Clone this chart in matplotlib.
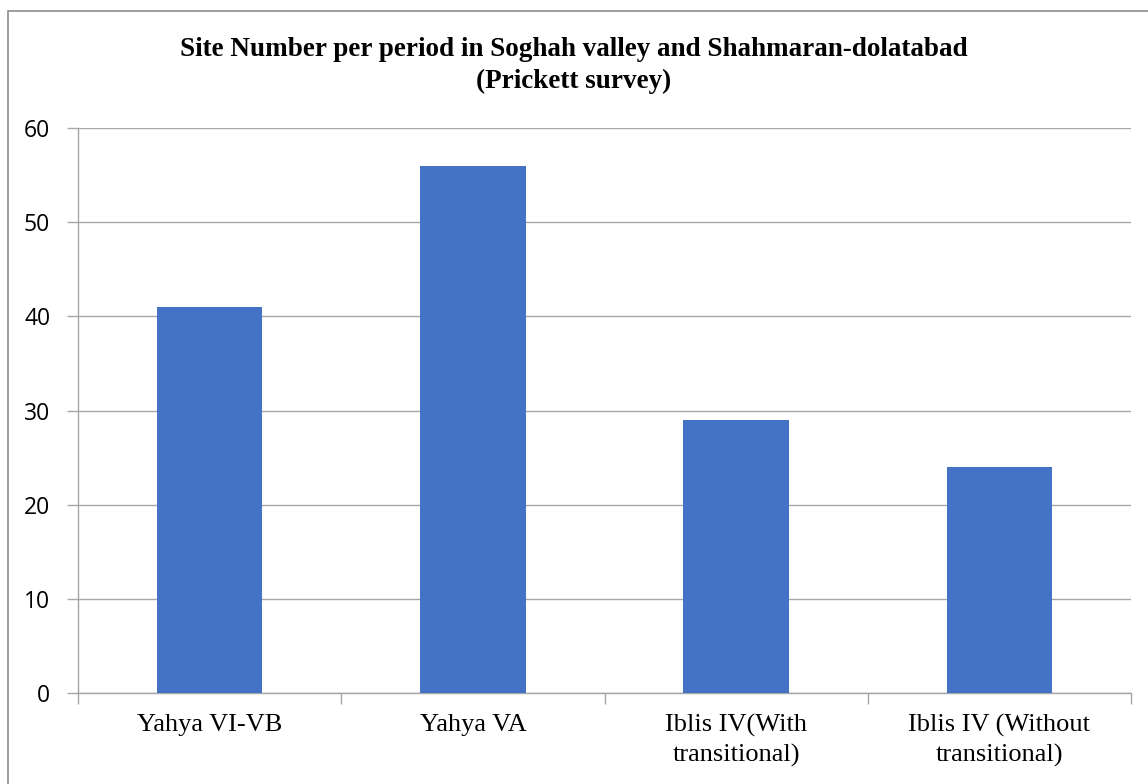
import numpy as np
import matplotlib.pyplot as plt
from matplotlib.patches import Rectangle

# data
periods = ["Yahya VI-VB", "Yahya VA", "Iblis IV(With\ntransitional)",
           "Iblis IV (Without\ntransitional)"]
site_counts = [41, 56, 29, 24]
y_ticks = [0, 10, 20, 30, 40, 50, 60]

grid_col = "#A6A6A6"
bar_col = "#4472C4"

fig = plt.figure(figsize=(11.48, 7.84), dpi=100)
ax = fig.add_axes([78 / 1148, 1 - 693 / 784, (1131 - 78) / 1148, (693 - 128) / 784])

x = np.arange(len(periods))
ax.bar(x, site_counts, width=0.4, color=bar_col, zorder=3)

ax.set_xlim(-0.5, len(periods) - 0.5)
ax.set_ylim(0, 60)
ax.set_yticks(y_ticks)
ax.set_yticklabels([str(t) for t in y_ticks], fontname="Open Sans", fontsize=16.5)
ax.yaxis.grid(True, color=grid_col, linewidth=1, zorder=0)
ax.tick_params(axis="y", length=8, width=1, color=grid_col, pad=12)

# category labels sit between boundary tick marks
ax.set_xticks(np.arange(len(periods) + 1) - 0.5)
ax.set_xticklabels([])
ax.tick_params(axis="x", length=8, width=1, color=grid_col, direction="out")
for xi, lab in zip(x, periods):
    ax.text(xi, -2.2, lab, ha="center", va="top", fontname="Liberation Serif",
            fontsize=19, linespacing=1.4)

for s in ["top", "right"]:
    ax.spines[s].set_visible(False)
for s in ["left", "bottom"]:
    ax.spines[s].set_color(grid_col)
    ax.spines[s].set_linewidth(1)

fig.text(0.5, 1 - 50 / 784, "Site Number per period in Soghah valley and Shahmaran-dolatabad",
         ha="center", va="center", fontname="Liberation Serif", fontweight="bold", fontsize=19.5)
fig.text(0.5, 1 - 81 / 784, "(Prickett survey)",
         ha="center", va="center", fontname="Liberation Serif", fontweight="bold", fontsize=19.5)

# chart border, cut off at right and bottom
fig.patches.append(Rectangle((8 / 1148, -0.1), 1.1, 1.1 - 11 / 784,
                             transform=fig.transFigure, fill=False,
                             edgecolor="#8C8C8C", linewidth=1.2))

fig.savefig("out.png", dpi=100)
